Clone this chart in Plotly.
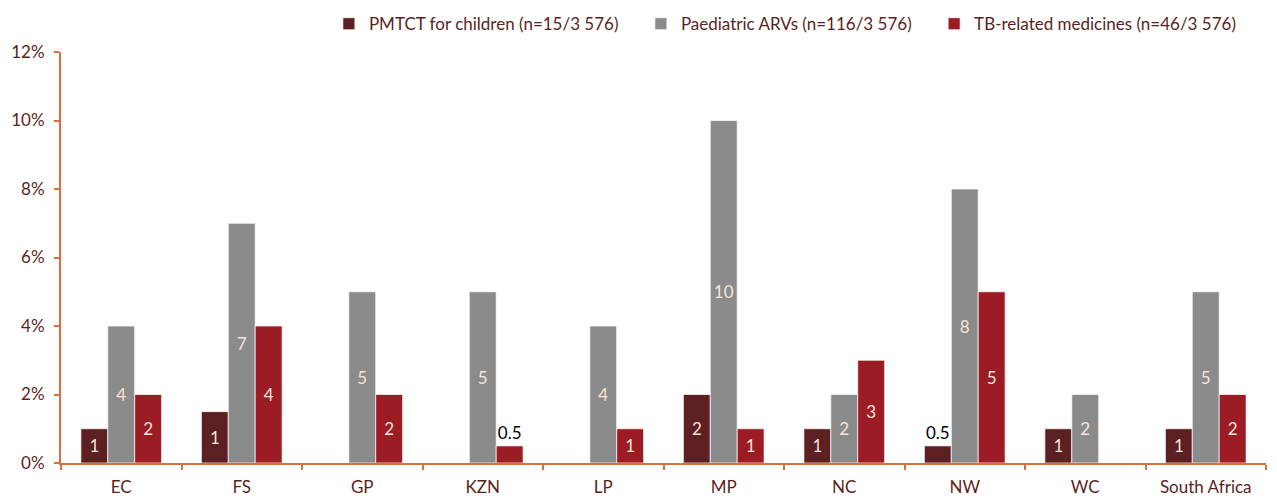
#!/usr/bin/env python3
"""Share of facilities with stock-outs of paediatric medicines, by province."""
import plotly.graph_objs as go

# Categories and values (%)
PROVINCES = ['EC', 'FS', 'GP', 'KZN', 'LP', 'MP', 'NC', 'NW', 'WC', 'South Africa']
PMTCT = [1, 1.5, 0, 0, 0, 2, 1, 0.5, 1, 1]
ARVS = [4, 7, 5, 5, 4, 10, 2, 8, 2, 5]
TB = [2, 4, 2, 0.5, 1, 1, 3, 5, 0, 2]

# Data labels as printed on the bars
PMTCT_LABELS = ['1', '1', '', '', '', '2', '1', '0.5', '1', '1']
ARVS_LABELS = ['4', '7', '5', '5', '4', '10', '2', '8', '2', '5']
TB_LABELS = ['2', '4', '2', '0.5', '1', '1', '3', '5', '', '2']

SERIES_NAMES = [
    'PMTCT for children (n=15/3 576)',
    'Paediatric ARVs (n=116/3 576)',
    'TB-related medicines (n=46/3 576)',
]
COLORS = ['#5C1F22', '#8A8B8A', '#9B1C25']
Y_TICKS = [0, 2, 4, 6, 8, 10, 12]

FONT = 'Lato, "Open Sans", sans-serif'
AXIS_COLOR = '#D4733F'
TEXT_COLOR = '#5C1F22'
PAD = '\u00a0' * 4  # extra room between legend entries


def label_style(labels, values):
    """Small bars get their label on top in black, others inside in cream."""
    pos, col = [], []
    for lab, v in zip(labels, values):
        if v < 0.75:
            pos.append('outside')
            col.append('#000000')
        else:
            pos.append('inside')
            col.append('#F6E3DC')
    return pos, col


fig = go.Figure()
for i, (name, vals, labs, color) in enumerate(zip(
        SERIES_NAMES, [PMTCT, ARVS, TB],
        [PMTCT_LABELS, ARVS_LABELS, TB_LABELS], COLORS)):
    pos, col = label_style(labs, vals)
    fig.add_trace(go.Bar(
        x=PROVINCES, y=vals,
        name=name + (PAD if i < len(SERIES_NAMES) - 1 else ''),
        text=labs, textposition=pos,
        insidetextanchor='middle',
        textfont=dict(color=col, size=17, family=FONT),
        constraintext='none',
        cliponaxis=False,
        marker=dict(color=color, line=dict(color='rgba(255,255,255,0.7)', width=1)),
    ))

# page body has an 8px margin, so the figure is drawn 8px right/down;
# shrink it so that it still fits in the window
fig.update_layout(
    width=1269, height=490,
    margin=dict(l=53, r=11, t=44, b=35, autoexpand=False),
    paper_bgcolor='white', plot_bgcolor='white',
    barmode='group', bargap=0.33, bargroupgap=0,
    font=dict(family=FONT, size=17, color=TEXT_COLOR),
    legend=dict(
        orientation='h', x=0.98, xanchor='right', xref='paper',
        y=0.967, yanchor='middle', yref='container',
        font=dict(size=17, color=TEXT_COLOR),
        traceorder='normal', bgcolor='rgba(0,0,0,0)',
    ),
    xaxis=dict(
        showline=True, linecolor=AXIS_COLOR, linewidth=2,
        ticks='outside', tickson='boundaries', tickcolor=AXIS_COLOR,
        ticklen=5, tickwidth=2, showgrid=False,
        ticklabelstandoff=8,
        tickfont=dict(size=17, color=TEXT_COLOR),
    ),
    yaxis=dict(
        range=[0, 12], tickvals=Y_TICKS,
        ticktext=[f'{t}%' for t in Y_TICKS],
        showline=True, linecolor=AXIS_COLOR, linewidth=2,
        ticks='outside', tickcolor=AXIS_COLOR, ticklen=5, tickwidth=2,
        showgrid=False, zeroline=False,
        ticklabelstandoff=6,
        tickfont=dict(size=17, color=TEXT_COLOR),
    ),
)

fig.write_html('out.html')
